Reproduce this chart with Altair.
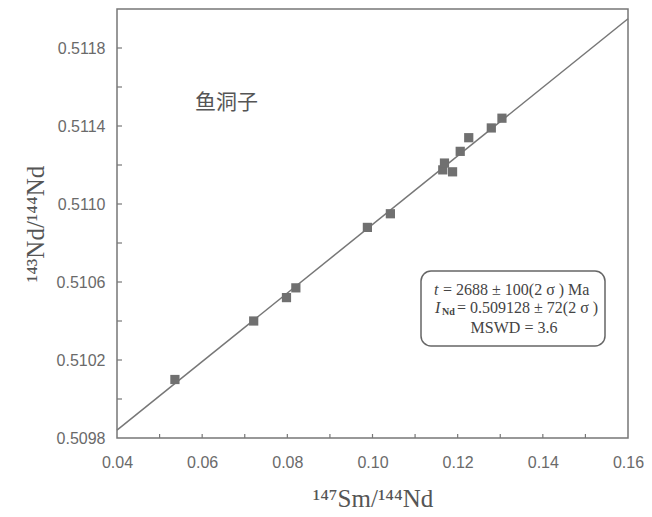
import altair as alt
import pandas as pd

# --- data ---
sm_nd = [0.0536, 0.0721, 0.0798, 0.0820, 0.0988, 0.1042, 0.1165, 0.1169, 0.1188, 0.1206, 0.1226, 0.1279, 0.1304]
nd_nd = [0.51010, 0.51040, 0.51052, 0.51057, 0.51088, 0.51095, 0.511175, 0.51121, 0.511165, 0.51127, 0.51134, 0.51139, 0.51144]

line_x = [0.04, 0.16]
line_y = [0.50984, 0.51195]

x_label_values = [0.04, 0.06, 0.08, 0.10, 0.12, 0.14, 0.16]
x_tick_values = [0.05, 0.06, 0.07, 0.08, 0.09, 0.10, 0.11, 0.12, 0.13, 0.14, 0.15]
y_label_values = [0.5098, 0.5102, 0.5106, 0.5110, 0.5114, 0.5118]
y_tick_values = [0.5100, 0.5102, 0.5104, 0.5106, 0.5108, 0.5110, 0.5112, 0.5114, 0.5116, 0.5118]

location = ["鱼洞子"]
ann1_italic = ["t"]
ann1_rest = ["=  2688 ± 100(2 σ ) Ma"]
ann2_italic = ["I"]
ann2_sub = ["Nd"]
ann2_rest = ["= 0.509128 ± 72(2 σ )"]
ann3 = ["MSWD =  3.6"]

GRAY = "#707070"
W, H = 511, 429

pts = pd.DataFrame({"x": sm_nd, "y": nd_nd})
ln = pd.DataFrame({"x": line_x, "y": line_y})

xscale = alt.Scale(domain=[0.04, 0.16], nice=False, zero=False)
yscale = alt.Scale(domain=[0.5098, 0.5120], nice=False, zero=False)

xaxis = alt.Axis(values=x_label_values, format=".2f", ticks=False, domain=False, grid=False,
                 labelFlush=False, labelOverlap=False,
                 labelFont="Liberation Sans", labelFontSize=16, labelColor="#6a6a6a", labelPadding=16,
                 title="¹⁴⁷Sm/¹⁴⁴Nd", titleFont="Liberation Serif", titleFontSize=25, titleFontWeight="normal",
                 titleColor="#555555", titlePadding=16)
yaxis = alt.Axis(values=y_label_values, format=".4f", ticks=False, domain=False, grid=False,
                 labelFlush=False, labelOverlap=False,
                 labelFont="Liberation Sans", labelFontSize=16, labelColor="#6a6a6a", labelPadding=12,
                 title="¹⁴³Nd/¹⁴⁴Nd", titleFont="Liberation Serif", titleFontSize=25, titleFontWeight="normal",
                 titleColor="#555555", titlePadding=8)

points = alt.Chart(pts).mark_square(size=85, color=GRAY, opacity=1).encode(
    x=alt.X("x:Q", scale=xscale, axis=xaxis),
    y=alt.Y("y:Q", scale=yscale, axis=yaxis),
)

line = alt.Chart(ln).mark_line(color="#777777", strokeWidth=1.5).encode(
    x=alt.X("x:Q", scale=xscale),
    y=alt.Y("y:Q", scale=yscale),
)

yt = alt.Chart(pd.DataFrame({"v": y_tick_values})).mark_rule(color="#777777", strokeWidth=1.2).encode(
    y=alt.Y("v:Q", scale=yscale), x=alt.value(0), x2=alt.value(5)
)
xt = alt.Chart(pd.DataFrame({"v": x_tick_values})).mark_rule(color="#777777", strokeWidth=1.2).encode(
    x=alt.X("v:Q", scale=xscale), y=alt.value(H), y2=alt.value(H - 4)
)

box = alt.Chart(pd.DataFrame({"a": [1]})).mark_rect(
    fill="white", stroke="#666666", strokeWidth=1.5, cornerRadius=10
).encode(x=alt.value(304), x2=alt.value(488), y=alt.value(262), y2=alt.value(337))

def txt(vals, x, y, size=16, style="normal", weight="normal", align="left", font="Liberation Serif", color="#444444"):
    return alt.Chart(pd.DataFrame({"t": vals})).mark_text(
        font=font, fontSize=size, fontStyle=style, fontWeight=weight, align=align,
        baseline="middle", color=color
    ).encode(text="t:N", x=alt.value(x), y=alt.value(y))

texts = [
    txt(location, 78, 94, size=21, font="Noto Sans CJK SC", color="#555555"),
    txt(ann1_italic, 317, 281, style="italic"),
    txt(ann1_rest, 326, 281),
    txt(ann2_italic, 318, 299, style="italic"),
    txt(ann2_sub, 325, 303, size=10, weight="bold"),
    txt(ann2_rest, 340, 299),
    txt(ann3, 397, 319, align="center"),
]

chart = alt.layer(yt, xt, line, points, box, *texts).properties(
    width=W, height=H,
    padding={"left": 109, "top": 1, "right": 16, "bottom": 78},
    autosize=alt.AutoSizeParams(type="none"),
).configure_view(stroke="#777777", strokeWidth=1.5)

chart.save("out.html", embed_options={"renderer": "svg", "actions": False})
